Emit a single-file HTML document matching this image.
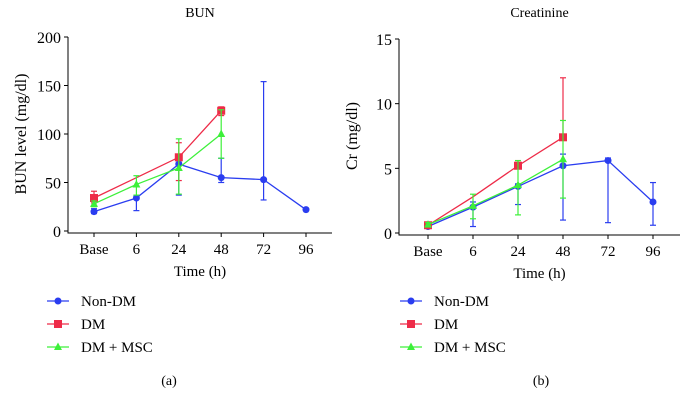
<!DOCTYPE html>
<html><head><meta charset="utf-8"><style>
body{margin:0;background:#fff;width:691px;height:413px;overflow:hidden}
svg{font-family:"Liberation Serif",serif}
</style></head><body>
<svg id="s" width="691" height="413"></svg>
<script>
const categories=["Base","6","24","48","72","96"];
const bunNonDM=[20,34,69,55,53,22];
const bunNonDMLo=[18,21,37,50,32,22];
const bunNonDMHi=[23,36,71,75,154,22];
const bunDM=[34,55,76,124];
const bunDMLo=[29,55,52,119];
const bunDMHi=[41,55,91,128];
const bunMSC=[28,48,65,100];
const bunMSCLo=[25,37,38,75];
const bunMSCHi=[31,57,95,125];
const crNonDM=[0.5,2.0,3.6,5.2,5.6,2.4];
const crNonDMLo=[0.4,0.5,2.2,1.0,0.8,0.6];
const crNonDMHi=[0.6,2.4,3.8,6.1,5.8,3.9];
const crDM=[0.6,2.8,5.2,7.4];
const crDMLo=[0.5,2.8,5.0,7.2];
const crDMHi=[0.7,2.8,5.6,12.0];
const crMSC=[0.65,2.1,3.7,5.7];
const crMSCLo=[0.5,1.1,1.4,2.7];
const crMSCHi=[0.8,3.0,5.6,8.7];
const bunTicks=[0,50,100,150,200];
const crTicks=[0,5,10,15];
const C={n:"#2a3df0",d:"#ee2b48",m:"#3df03a"};
const svg=document.getElementById('s');
const NS="http://www.w3.org/2000/svg";
function el(t,a,p){const e=document.createElementNS(NS,t);for(const k in a)e.setAttribute(k,a[k]);(p||svg).appendChild(e);return e;}
function chart(o){
  const g=el('g',{});
  
  
  const x=i=>o.x0+i*o.dx, y=v=>o.y0-(v/o.max)*(o.y0-o.y1);
  const ax=el('path',{d:`M${o.ax},${o.y1} V${o.y0+2} H${o.axEnd}`,stroke:"#000","stroke-width":1,fill:"none"},g);
  
  o.ticks.forEach(t=>{el('line',{x1:o.ax-4,x2:o.ax,y1:y(t),y2:y(t),stroke:"#000"},g);
    const tx=el('text',{x:o.ax-7,y:y(t)+6,"text-anchor":"end","font-size":16},g);tx.textContent=t;
    });
  categories.forEach((c,i)=>{el('line',{x1:x(i),x2:x(i),y1:o.y0+2,y2:o.y0+6,stroke:"#000"},g);
    const tx=el('text',{x:x(i),y:o.y0+23,"text-anchor":"middle","font-size":15},g);tx.textContent=c;
    });
  let t=el('text',{x:(o.ax+o.axEnd)/2,y:o.y0+45,"text-anchor":"middle","font-size":15},g);t.textContent="Time (h)";
  
  t=el('text',{x:(o.ax+o.axEnd)/2,y:17,"text-anchor":"middle","font-size":14},g);t.textContent=o.title;
  
  t=el('text',{transform:`translate(${o.ax-42},${(o.y0+o.y1)/2}) rotate(-90)`,"text-anchor":"middle","font-size":16},g);t.textContent=o.ylab;
  
  o.series.forEach(s=>{
    const sg=el('g',{},g);
    
    s.v.forEach((v,i)=>{if(s.hi[i]!==s.lo[i]){
      el('line',{x1:x(i),x2:x(i),y1:y(s.lo[i]),y2:y(s.hi[i]),stroke:s.c,"stroke-width":1.2},sg);
      el('line',{x1:x(i)-3,x2:x(i)+3,y1:y(s.lo[i]),y2:y(s.lo[i]),stroke:s.c,"stroke-width":1.2},sg);
      el('line',{x1:x(i)-3,x2:x(i)+3,y1:y(s.hi[i]),y2:y(s.hi[i]),stroke:s.c,"stroke-width":1.2},sg);}});
    el('polyline',{points:s.v.map((v,i)=>x(i)+","+y(v)).join(" "),fill:"none",stroke:s.c,"stroke-width":1.3},sg);
    s.v.forEach((v,i)=>{if(s.skip&&s.skip.includes(i))return;let m;
      if(s.shape==='c')m=el('circle',{cx:x(i),cy:y(v),r:3.5,fill:s.c},sg);
      else if(s.shape==='s')m=el('rect',{x:x(i)-4,y:y(v)-4,width:8,height:8,fill:s.c},sg);
      else m=el('polygon',{points:`${x(i)},${y(v)-4.5} ${x(i)-4},${y(v)+3} ${x(i)+4},${y(v)+3}`,fill:s.c},sg);
      });
  });
  const lg=el('g',{},g);
  [["Non-DM",C.n,'c'],["DM",C.d,'s'],["DM + MSC",C.m,'t']].forEach((l,i)=>{
    const ly=301+i*23,lx=o.lx;
    el('line',{x1:lx,x2:lx+22,y1:ly,y2:ly,stroke:l[1],"stroke-width":1.3},lg);
    if(l[2]==='c')el('circle',{cx:lx+11,cy:ly,r:3.5,fill:l[1]},lg);
    else if(l[2]==='s')el('rect',{x:lx+7,y:ly-4,width:8,height:8,fill:l[1]},lg);
    else el('polygon',{points:`${lx+11},${ly-4.5} ${lx+7},${ly+3} ${lx+15},${ly+3}`,fill:l[1]},lg);
    const tx=el('text',{x:lx+34,y:ly+5,"font-size":15},lg);tx.textContent=l[0];
    });
  t=el('text',{x:o.panelX,y:385,"text-anchor":"middle","font-size":14},g);t.textContent=o.panel;
  
}
chart({name:'bun-chart',title:'BUN',ylab:'BUN level (mg/dl)',ax:68,axEnd:332,x0:94,dx:42.4,y0:231,y1:37,max:200,ticks:bunTicks,lx:47,panel:'(a)',panelX:169,
 series:[{key:'non-dm',c:C.n,shape:'c',v:bunNonDM,lo:bunNonDMLo,hi:bunNonDMHi},
 {key:'dm',c:C.d,shape:'s',v:bunDM,lo:bunDMLo,hi:bunDMHi,skip:[1]},
 {key:'dm-msc',c:C.m,shape:'t',v:bunMSC,lo:bunMSCLo,hi:bunMSCHi}]});
chart({name:'creatinine-chart',title:'Creatinine',ylab:'Cr (mg/dl)',ax:399,axEnd:680,x0:428,dx:45,y0:233,y1:39,max:15,ticks:crTicks,lx:400,panel:'(b)',panelX:541,
 series:[{key:'non-dm',c:C.n,shape:'c',v:crNonDM,lo:crNonDMLo,hi:crNonDMHi},
 {key:'dm',c:C.d,shape:'s',v:crDM,lo:crDMLo,hi:crDMHi,skip:[1]},
 {key:'dm-msc',c:C.m,shape:'t',v:crMSC,lo:crMSCLo,hi:crMSCHi}]});
</script>
</body></html>
